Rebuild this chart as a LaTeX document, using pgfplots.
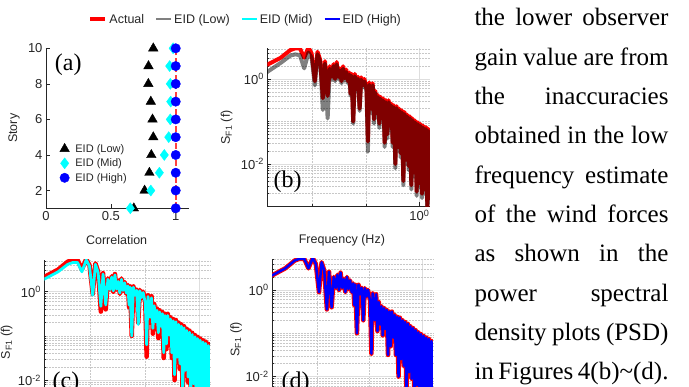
\documentclass[border=0pt]{standalone}
\usepackage{fontspec}
\setmainfont{Liberation Sans}
\newfontfamily\tnr{Liberation Serif}
\usepackage{pgfplots}
\pgfplotsset{compat=1.18}
\usepackage{pgfplotstable}
\definecolor{axcol}{RGB}{38,38,38}
\definecolor{gridmaj}{RGB}{222,222,222}
\definecolor{gridmin}{RGB}{200,200,200}
\definecolor{eidlow}{RGB}{128,128,128}
\definecolor{eidmid}{RGB}{0,255,255}
\definecolor{eidhigh}{RGB}{0,0,255}

% log10(frequency), log10(PSD) for Actual and the three EID estimates
\pgfplotstableread{
lf act low mid high
-2.86 0.33 0.16 0.28 0.33
-2.60 0.50 0.38 0.45 0.50
-2.42 0.68 0.55 0.62 0.68
-2.33 0.72 0.58 0.66 0.72
-2.24 0.72 0.56 0.66 0.72
-2.16 0.50 0.25 0.45 0.50
-2.08 0.74 0.62 0.72 0.74
-2.02 0.60 0.50 0.58 0.60
-1.96 -0.05 -0.15 -0.08 -0.05
-1.91 0.64 0.58 0.62 0.64
-1.86 0.45 0.40 0.43 0.45
-1.81 -0.45 -0.73 -0.33 -0.45
-1.77 0.42 0.36 0.40 0.42
-1.72 -0.40 -0.93 -0.30 -0.40
-1.68 0.30 0.24 0.28 0.30
-1.64 0.05 -0.02 0.05 0.05
-1.61 0.35 0.30 0.33 0.35
-1.58 0.00 -0.05 0.02 0.00
-1.55 0.40 0.34 0.38 0.40
-1.52 0.05 0.00 0.06 0.05
-1.49 0.25 0.20 0.23 0.25
-1.46 -0.05 -0.10 -0.03 -0.05
-1.43 0.30 0.24 0.28 0.30
-1.40 0.02 -0.04 0.03 0.02
-1.37 0.22 0.16 0.20 0.22
-1.34 -0.05 -0.10 -0.03 -0.05
-1.31 0.15 0.10 0.13 0.15
-1.29 -0.35 -0.40 -0.30 -0.35
-1.27 0.12 0.07 0.10 0.12
-1.24 -1.00 -1.05 -1.00 -1.00
-1.21 0.12 0.06 0.10 0.12
-1.18 -0.10 -0.15 -0.08 -0.10
-1.15 0.05 0.00 0.03 0.05
-1.12 -0.70 -0.75 -0.74 -0.70
-1.09 0.04 -0.02 0.02 0.04
-1.06 -0.15 -0.20 -0.13 -0.15
-1.03 0.00 -0.06 -0.02 0.00
-0.99 -0.25 -0.30 -0.25 -0.25
-0.965 -1.47 -1.71 -1.20 -1.47
-0.94 -0.08 -0.14 -0.11 -0.08
-0.900 -0.70 -0.80 -0.58 -0.70
-0.875 -0.10 -0.15 -0.14 -0.10
-0.850 -0.95 -1.05 -0.83 -0.95
-0.825 -0.28 -0.33 -0.32 -0.28
-0.800 -0.80 -0.90 -0.68 -0.80
-0.775 -0.38 -0.43 -0.42 -0.38
-0.750 -1.05 -1.15 -0.93 -1.05
-0.725 -0.42 -0.47 -0.46 -0.42
-0.700 -0.90 -1.00 -0.78 -0.90
-0.675 -0.46 -0.51 -0.50 -0.46
-0.650 -1.50 -1.60 -1.38 -1.50
-0.625 -0.50 -0.55 -0.54 -0.50
-0.600 -1.30 -1.40 -1.18 -1.30
-0.575 -0.50 -0.55 -0.54 -0.50
-0.550 -1.10 -1.20 -0.98 -1.10
-0.525 -0.58 -0.63 -0.62 -0.58
-0.500 -1.50 -1.60 -1.38 -1.50
-0.475 -0.62 -0.67 -0.66 -0.62
-0.450 -2.00 -2.10 -1.88 -2.00
-0.425 -0.64 -0.69 -0.68 -0.64
-0.400 -1.60 -1.70 -1.48 -1.60
-0.375 -0.70 -0.75 -0.74 -0.70
-0.350 -1.75 -1.85 -1.63 -1.75
-0.325 -0.74 -0.79 -0.78 -0.74
-0.300 -2.40 -2.50 -2.28 -2.40
-0.275 -0.78 -0.83 -0.82 -0.78
-0.250 -1.90 -2.00 -1.78 -1.90
-0.225 -0.84 -0.89 -0.88 -0.84
-0.200 -2.05 -2.15 -1.93 -2.05
-0.175 -0.88 -0.93 -0.92 -0.88
-0.150 -2.50 -2.60 -2.38 -2.50
-0.125 -0.93 -0.98 -0.97 -0.93
-0.100 -2.20 -2.30 -2.08 -2.20
-0.075 -0.98 -1.03 -1.02 -0.98
-0.050 -2.65 -2.75 -2.53 -2.65
-0.025 -1.02 -1.07 -1.06 -1.02
0.000 -2.45 -2.55 -2.33 -2.45
0.025 -1.06 -1.11 -1.10 -1.06
0.050 -2.70 -2.80 -2.58 -2.70
0.075 -1.10 -1.15 -1.14 -1.10
0.100 -2.60 -2.70 -2.48 -2.60
0.125 -1.13 -1.18 -1.17 -1.13
0.150 -3.00 -3.10 -2.88 -3.00
0.175 -1.18 -1.23 -1.22 -1.18
0.200 -2.85 -2.95 -2.73 -2.85
}\psd

\pgfplotsset{
  matstyle/.style={
    scale only axis,
    axis x line*=bottom, axis y line*=left,
    axis line style={-, draw=axcol, line width=0.6pt},
    every inner x axis line/.append style={-},
    every inner y axis line/.append style={-},
    every outer x axis line/.append style={-},
    every outer y axis line/.append style={-},
    tick align=inside,
    major tick length=4pt, minor tick length=2pt,
    tick style={draw=axcol, line width=0.5pt},
    ticklabel style={font=\fontsize{13}{15}\selectfont, text=axcol},
    label style={font=\fontsize{12.5}{14}\selectfont, text=axcol},
    /pgf/number format/assume math mode=true,
  },
  psd/.style={
    matstyle,
    xmin=-2.85, xmax=0.2, ymin=-3, ymax=0.72,
    xtick={0}, xticklabels={10\textsuperscript{0}},
    ytick={-2,0}, yticklabels={10\textsuperscript{-2},10\textsuperscript{0}},
    minor xtick={-2,-1},
    minor ytick={-2.699,-2.523,-2.398,-2.301,-2.222,-2.155,-2.097,-2.046,-1.699,-1.523,-1.398,-1.301,-1.222,-1.155,-1.097,-1.046,-1,-0.699,-0.523,-0.398,-0.301,-0.222,-0.155,-0.097,-0.046,0.301,0.477,0.602,0.699},
    xmajorgrids, ymajorgrids, xminorgrids, yminorgrids,
    major grid style={draw=gridmaj, line width=0.6pt},
    minor grid style={draw=gridmin, line width=0.5pt, densely dotted},
    ylabel={S\textsubscript{F1} (f)},
  },
}

\begin{document}
\begin{tikzpicture}
\path[use as bounding box] (0,0) rectangle (689pt,387pt);
\clip (0,0) rectangle (689pt,387pt);

% ---------------- (a) ----------------
\begin{axis}[matstyle,
  at={(46pt,178.7pt)}, anchor=south west, width=142.7pt, height=160pt,
  xmin=0, xmax=1.1, ymin=1, ymax=10,
  xtick={0,0.5,1}, xticklabels={0,0.5,1}, ytick={2,4,6,8,10},
  xlabel={Correlation}, ylabel={Story},
  xlabel style={at={([yshift=-31.7pt]axis description cs:0.495,0)}, anchor=center},
  ylabel style={at={([xshift=-32pt]axis description cs:0,0.5)}, anchor=center},
  clip=false,
  legend cell align=left,
  legend style={at={(axis description cs:0.335,0.281)}, anchor=center, draw=none, fill=none,
    font=\fontsize{11}{12}\selectfont, text=axcol, row sep=3pt, nodes={inner sep=1pt},
    /tikz/every odd column/.append style={column sep=5pt}},
]
\addplot[only marks, mark=triangle*, mark size=5.5pt, color=black]
  coordinates {(0.827,10) (0.79,9) (0.789,8) (0.808,7) (0.821,6) (0.827,5) (0.812,4) (0.797,3) (0.76,2) (0.677,1)};
\addlegendentry{EID (Low)}
\addplot[only marks, mark=diamond*, mark size=5.5pt, color=eidmid]
  coordinates {(0.98,10) (0.953,9) (0.958,8) (0.961,7) (0.958,6) (0.946,5) (0.912,4) (0.874,3) (0.808,2) (0.65,1)};
\addlegendentry{EID (Mid)}
\addplot[only marks, mark=*, mark size=4.7pt, color=eidhigh]
  coordinates {(1,10) (1,9) (1,8) (1,7) (1,6) (1,5) (1,4) (1,3) (1,2) (1,1)};
\addlegendentry{EID (High)}
\addplot[forget plot, red, opacity=0.75, line width=2.2pt, dash pattern=on 6pt off 2.5pt]
  coordinates {(1,1) (1,10)};
\node[font=\tnr\fontsize{24}{26}\selectfont, text=black] at (axis description cs:0.156,0.896) {(a)};
\end{axis}

% ---------------- (b) ----------------
\begin{axis}[psd,
  at={(267.4pt,180.5pt)}, anchor=south west, width=162.6pt, height=158.1pt,
  xlabel={Frequency (Hz)},
  xlabel style={at={([yshift=-34.2pt]axis description cs:0.458,0)}, anchor=center},
  ylabel style={at={([xshift=-40.7pt]axis description cs:0,0.5)}, anchor=center},
  legend columns=4,
  legend image code/.code={\draw[#1] (0pt,0pt) -- (15pt,0pt);},
  legend style={at={(axis description cs:-0.1335,1.184)}, anchor=center, draw=none, fill=none,
    font=\fontsize{12.5}{14}\selectfont, text=axcol,
    /tikz/every even column/.append style={column sep=9pt},
    nodes={inner xsep=2.2pt, inner ysep=1pt}},
]
\addplot[forget plot, red, line width=4pt, line join=round] table[x=lf, y=act] {\psd};
\addplot[forget plot, eidlow, line width=4pt, line join=round, blend mode=multiply] table[x=lf, y=low] {\psd};
\node[font=\tnr\fontsize{24}{26}\selectfont, text=black] at (rel axis cs:0.124,0.158) {(b)};
\addlegendimage{red, line width=4pt}
\addlegendentry{Actual}
\addlegendimage{eidlow, line width=1.6pt}
\addlegendentry{EID (Low)}
\addlegendimage{eidmid, line width=1.6pt}
\addlegendentry{EID (Mid)}
\addlegendimage{eidhigh, line width=1.6pt}
\addlegendentry{EID (High)}
\end{axis}

% ---------------- (c) ----------------
\begin{axis}[psd,
  at={(44.5pt,-37.3pt)}, anchor=south west, width=165.3pt, height=164.4pt,
  ylabel style={at={([xshift=-37.8pt]axis description cs:0,0.5)}, anchor=center},
]
\addplot[red, line width=4.5pt, line join=round] table[x=lf, y=act] {\psd};
\addplot[eidmid, line width=2.8pt, line join=round] table[x=lf, y=mid] {\psd};
\node[font=\tnr\fontsize{24}{26}\selectfont, text=black] at (rel axis cs:0.13,0.251) {(c)};
\end{axis}

% ---------------- (d) ----------------
\begin{axis}[psd,
  at={(272.1pt,-32.9pt)}, anchor=south west, width=160.7pt, height=161.1pt,
  ylabel style={at={([xshift=-36pt]axis description cs:0,0.5)}, anchor=center},
]
\addplot[red, line width=4.5pt, line join=round] table[x=lf, y=act] {\psd};
\addplot[eidhigh, line width=2.5pt, line join=round] table[x=lf, y=high] {\psd};
\node[font=\tnr\fontsize{24}{26}\selectfont, text=black] at (rel axis cs:0.146,0.229) {(d)};
\end{axis}

% ---------------- body text ----------------
\begin{scope}[every node/.style={anchor=base west, inner sep=0pt, font=\tnr\fontsize{25}{30}\selectfont}]
\node at (474.3pt,361pt)   {\makebox[194pt][s]{the lower observer}};
\node at (474.3pt,321.7pt) {\makebox[194pt][s]{gain value are from}};
\node at (474.3pt,282.4pt) {\makebox[194pt][s]{the inaccuracies}};
\node at (474.3pt,243.1pt) {\makebox[194pt][s]{obtained in the low}};
\node at (474.3pt,203.8pt) {\makebox[194pt][s]{frequency estimate}};
\node at (474.3pt,164.5pt) {\makebox[194pt][s]{of the wind forces}};
\node at (474.3pt,125.2pt) {\makebox[194pt][s]{as shown in the}};
\node at (474.3pt,85.9pt)  {\makebox[194pt][s]{power spectral}};
\node at (474.3pt,46.6pt)  {\makebox[194pt][s]{density plots (PSD)}};
\node at (474.3pt,7.3pt)   {\makebox[194pt][s]{in Figures 4(b)\char"7E(d).}};
\end{scope}
\end{tikzpicture}
\end{document}
